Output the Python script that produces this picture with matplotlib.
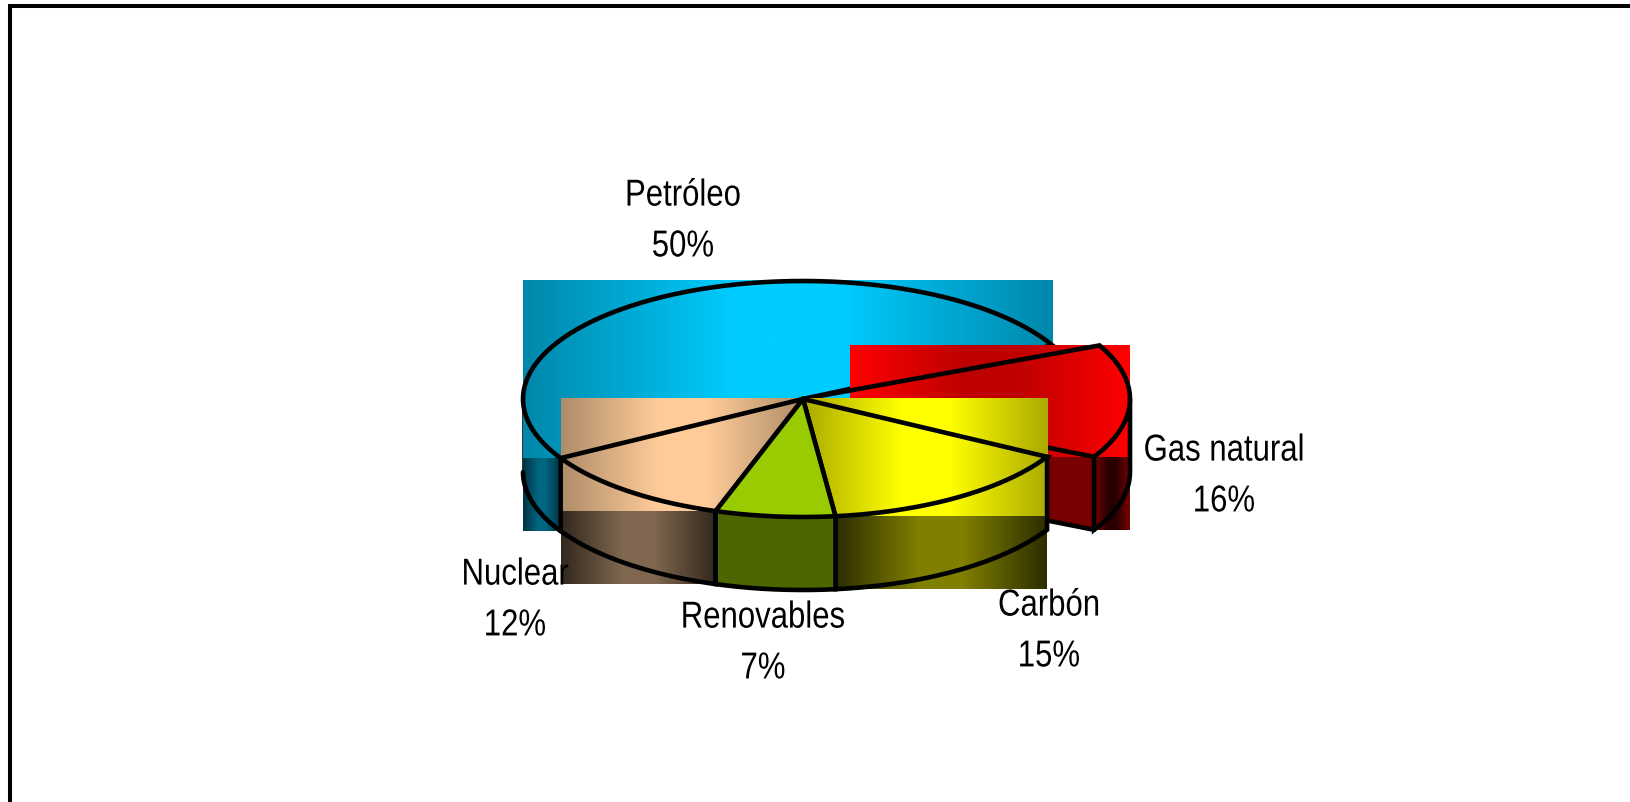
import numpy as np
import matplotlib
matplotlib.use('Agg')
import matplotlib.pyplot as plt
from matplotlib import patheffects
from matplotlib.transforms import Affine2D

# shares as measured from the slice edges, labels as printed on the chart
names = ['Petróleo', 'Nuclear', 'Renovables', 'Carbón', 'Gas natural']
shares = [50.85, 11.6, 6.9, 15.0, 15.65]
pct_labels = ['50%', '12%', '7%', '15%', '16%']

cx, cy = 803, 400
rx, ry = 280, 118
depth = 73
explode = 47   # only the gas slice is shifted, in x
start_angle = 27
lw = 3.3

angles = start_angle + np.concatenate([[0], np.cumsum(shares)]) * 3.6


class Narrow(patheffects.AbstractPathEffect):
    # no narrow font installed, so squeeze the glyphs around the label centre
    def __init__(self, x_px, factor):
        self.x_px, self.factor = x_px, factor

    def draw_path(self, renderer, gc, tpath, affine, rgbFace=None):
        squeeze = Affine2D().translate(-self.x_px, 0).scale(self.factor, 1).translate(self.x_px, 0)
        renderer.draw_path(gc, tpath, affine + squeeze, rgbFace)


def arc(a0, a1, x0=cx):
    t = np.radians(np.linspace(a0, a1, 200))
    return x0 + rx * np.cos(t), cy - ry * np.sin(t)


def gradient(x0, x1, y0, y1, edge, mid, z):
    s = np.clip((np.abs(np.linspace(-1, 1, 256)) - 0.2) / 0.8, 0, 1)
    edge, mid = np.array(edge, float), np.array(mid, float)
    img = (edge[None, :] * s[:, None] + mid[None, :] * (1 - s[:, None])) / 255
    ax.imshow(img[None, :, :], extent=(x0, x1, y1, y0), aspect='auto', zorder=z,
              interpolation='bilinear')


def top_box(a0, a1, x0=cx):
    x, y = arc(a0, a1, x0)
    x, y = np.append(x, x0), np.append(y, cy)
    return x.min(), x.max(), y.min(), y.max()


def side_box(a0, a1, x0=cx):
    x, y = arc(a0, a1, x0)
    return x.min(), x.max(), y.min(), y.max() + depth


def line(x, y, z, width=lw):
    ax.plot(x, y, color='black', lw=width, zorder=z, solid_joinstyle='miter',
            solid_capstyle='round')


def wedge_outline(a0, a1, z, x0=cx):
    x, y = arc(a0, a1, x0)
    line(np.r_[cx, x, cx], np.r_[cy, y, cy], z)


def side_outline(a0, a1, z, x0=cx):
    x, y = arc(a0, a1, x0)
    line(np.r_[x[0], x, x[-1]], np.r_[y[0], y + depth, y[-1]], z)


fig = plt.figure(figsize=(16.30, 8.03), dpi=100)
ax = fig.add_axes([0, 0, 1, 1])
ax.axis('off')

a = angles
# petroleo
line([cx - rx + 1, cx - rx + 1], [cy, cy + depth], 1)
gradient(*side_box(180, a[1]), (0, 50, 65), (0, 102, 128), 2)
gradient(*top_box(a[0], a[1]), (0, 135, 170), (0, 204, 255), 3)
wedge_outline(a[0], a[1], 4)
x, y = arc(180, a[1])
line(x, y + depth, 4)
line([x[-1], x[-1]], [y[-1], y[-1] + depth], 4)

# gas natural
gx = cx + explode
line([cx + explode + rx - 1] * 2, [cy, cy + depth], 5)
x_tip, y_tip = arc(a[4], a[4] + 1, gx)
ax.fill([cx, x_tip[0], x_tip[0], cx], [cy, y_tip[0], y_tip[0] + depth, cy + depth],
        color=(120 / 255, 0, 0), lw=0, zorder=6)
gradient(*side_box(a[4], 360, gx), (120, 0, 0), (40, 0, 0), 6)
gradient(*top_box(a[4], a[5], gx), (255, 0, 0), (190, 0, 0), 7)
x, y = arc(a[4], a[5], gx)
line(np.r_[cx, x, cx], np.r_[cy, y, cy], 8)
x, y = arc(a[4], 360, gx)
line(np.r_[x[0], x, x[-1]], np.r_[y[0], y + depth, y[-1]], 8)
line([cx, x[0]], [cy + depth, y[0] + depth], 8)

# nuclear y carbon
gradient(*side_box(a[1], a[2]), (50, 40, 30), (128, 103, 80), 9)
gradient(*side_box(a[3], a[4]), (45, 45, 0), (128, 128, 0), 9)
gradient(*top_box(a[1], a[2]), (175, 140, 105), (255, 204, 153), 10)
gradient(*top_box(a[3], a[4]), (170, 170, 0), (255, 255, 0), 10)
wedge_outline(a[1], a[2], 11)
wedge_outline(a[3], a[4], 11)
side_outline(a[1], a[2], 11)
side_outline(a[3], a[4], 11)

# renovables, solid fill so it keeps the slice shape
x, y = arc(a[2], a[3])
ax.fill(np.r_[x, x[::-1]], np.r_[y, y[::-1] + depth], color=(77 / 255, 102 / 255, 0), lw=0, zorder=12)
ax.fill(np.r_[cx, x], np.r_[cy, y], color=(153 / 255, 204 / 255, 0), lw=0, zorder=13)
wedge_outline(a[2], a[3], 14)
side_outline(a[2], a[3], 14)

# frame, only left and top are inside the picture
line([10, 10, 1640], [813, 7, 7], 15, width=2.9)

label_x = [683, 515, 763, 1049, 1224]
label_y = [222, 601, 644, 632, 477]
for n, p, lx, ly in zip(names, pct_labels, label_x, label_y):
    ax.text(lx, ly, n + '\n' + p, ha='center', va='center', fontsize=27, linespacing=1.53,
            family='Liberation Sans', zorder=20, path_effects=[Narrow(lx, 0.83)])

ax.set_xlim(0, 1630)
ax.set_ylim(803, 0)
fig.savefig('out.png', dpi=100)
